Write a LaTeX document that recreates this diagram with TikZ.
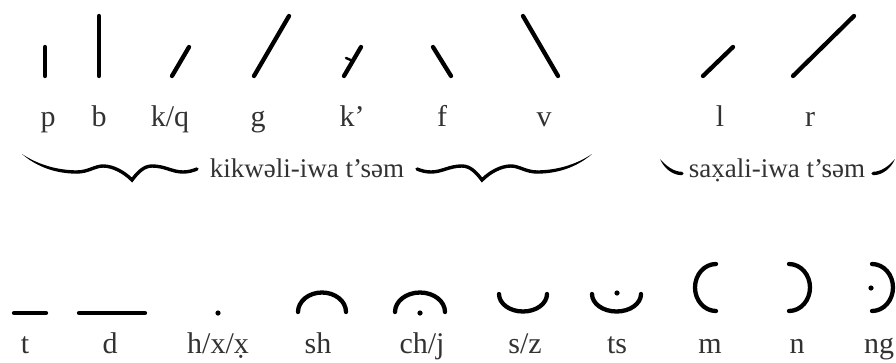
\documentclass[tikz,border=0pt]{standalone}
\usepackage{fontspec}
\setmainfont{Liberation Serif}
\usepackage{tikz}
\usetikzlibrary{positioning}
\definecolor{inkText}{RGB}{50, 50, 50}

\begin{document}
\begin{tikzpicture}[x=1pt,y=-1pt,
        glyph/.style={line width=4.3pt,line cap=round},
        letter/.style={font=\fontsize{30}{34}\selectfont,text=inkText,anchor=base,inner sep=0pt},
        group/.style={font=\fontsize{27}{30}\selectfont,text=inkText,anchor=base,inner sep=0pt},
        brace/.style={line width=3.4pt,line cap=round}
    ]
        \useasboundingbox (0,0) rectangle (896,362);

        % top row: strokes
        \draw[glyph] (45,47) -- (45,76);
        \draw[glyph] (99,16) -- (99,76);
        \draw[glyph] (172,76) -- (189,47);
        \draw[glyph] (254,76) -- (289,16);
        \draw[glyph] (344,76) -- (361,47);
        \draw[line width=2.4pt,line cap=round] (346,58) -- (353,61);
        \draw[glyph] (433,47) -- (451,76);
        \draw[glyph] (523,16) -- (558,76);
        \draw[glyph] (703,76) -- (733,47);
        \draw[glyph] (793,76) -- (854,16);

        % top row: letters
        \node[letter] (lp) at (48,126) {p};
        \node[letter] (lb) at (99,126) {b};
        \node[letter] (lkq) at (170,126) {k/q};
        \node[letter] (lg) at (258,126) {g};
        \node[letter] (lkk) at (352,126) {k’};
        \node[letter] (lf) at (442,126) {f};
        \node[letter] (lv) at (544,126) {v};
        \node[letter] (ll) at (720,126) {l};
        \node[letter] (lr) at (810,126) {r};

        % group 1
        \node[group] (kik) at (307,177) {kikwəli-iwa t’səm};
        \fill (22,154) .. controls (40,166) and (60,170.3) .. (77,170.3) -- (77,173.7)
            .. controls (58,173.7) and (38,168) .. (22,154) -- cycle;
        \draw[brace] (77,172) .. controls (88,172) and (95,166) .. (103,166)
            .. controls (113,166) and (124,172) .. (132,180)
            .. controls (138,172) and (144,166) .. (152,166)
            .. controls (165,166) and (172,172) .. (183,172)
            .. controls (189,172) and (193,170.5) .. (197,169);
        \begin{scope}[xshift=614pt,xscale=-1]
            \fill (22,154) .. controls (40,166) and (60,170.3) .. (77,170.3) -- (77,173.7)
                .. controls (58,173.7) and (38,168) .. (22,154) -- cycle;
            \draw[brace] (77,172) .. controls (88,172) and (95,166) .. (103,166)
                .. controls (113,166) and (124,172) .. (132,180)
                .. controls (138,172) and (144,166) .. (152,166)
                .. controls (165,166) and (172,172) .. (183,172)
                .. controls (189,172) and (193,170.5) .. (197,169);
        \end{scope}

        % group 2
        \node[group] (sax) at (777,177) {sax̣ali-iwa t’səm};
        \fill (660,159) .. controls (666,166) and (674,171.8) .. (682,171.8) -- (682,175.2)
            .. controls (672,175.2) and (664,168) .. (660,159) -- cycle;
        \fill (682,173.5) circle (1.7);
        \begin{scope}[xshift=1555pt,xscale=-1]
            \fill (660,159) .. controls (666,166) and (674,171.8) .. (682,171.8) -- (682,175.2)
                .. controls (672,175.2) and (664,168) .. (660,159) -- cycle;
            \fill (682,173.5) circle (1.7);
        \end{scope}

        % bottom row: strokes
        \draw[glyph] (14,313) -- (46,313);
        \draw[glyph] (79,313) -- (145,313);
        \fill (218,313) circle (2.6);
        \draw[glyph] (298,312) arc[start angle=180,end angle=360,x radius=24,y radius=19.5];
        \draw[glyph] (395,312) arc[start angle=180,end angle=360,x radius=25,y radius=19.5];
        \fill (420,313) circle (2.6);
        \draw[glyph] (499,294) arc[start angle=180,end angle=0,x radius=24,y radius=17.5];
        \draw[glyph] (592,294) arc[start angle=180,end angle=0,x radius=24.5,y radius=17.5];
        \fill (617,293) circle (2.6);
        \draw[glyph] (716,264) arc[start angle=270,end angle=90,x radius=21,y radius=23.5];
        \draw[glyph] (789,264) arc[start angle=-90,end angle=90,x radius=21,y radius=23.5];
        \draw[glyph] (872,264) arc[start angle=-90,end angle=90,x radius=21,y radius=23.5];
        \fill (871,288) circle (2.6);

        % bottom row: letters
        \node[letter] (lt) at (25,353) {t};
        \node[letter] (ld) at (110,353) {d};
        \node[letter] (lh) at (218,353) {h/x/x̣};
        \node[letter] (lsh) at (318,353) {sh};
        \node[letter] (lch) at (422,353) {ch/j};
        \node[letter] (lsz) at (525,353) {s/z};
        \node[letter] (lts) at (617,353) {ts};
        \node[letter] (lm) at (710,353) {m};
        \node[letter] (ln) at (797,353) {n};
        \node[letter] (lng) at (879,353) {ng};

    \end{tikzpicture}
\end{document}
